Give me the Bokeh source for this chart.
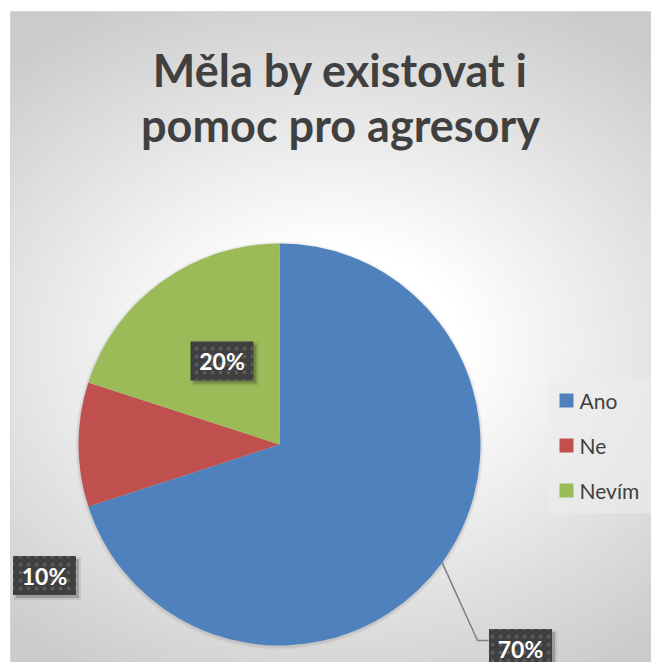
import numpy as np
from bokeh.plotting import figure
from bokeh.models import ColumnDataSource, Range1d, Label
from bokeh.core.properties import value
from bokeh.embed import file_html
from bokeh.resources import INLINE

# ---------------- data ----------------
TITLE_LINES = ["Měla by existovat i", "pomoc pro agresory"]
CATEGORIES = ["Ano", "Ne", "Nevím"]
SHARES = [0.70, 0.10, 0.20]
COLORS = ["#4F81BD", "#C0504D", "#9BBB59"]

# ---------------- layout (picture pixel coordinates) ----------------
W, H = 651, 662


def Y(py):
    return H - py


FONT = "Lato"
TEXT_COLOR = "#404040"
CX, CY, R = 279, Y(444), 201
LABEL_CENTERS = [(520, 648), (44, 575), (221.5, 360.5)]  # Ano, Ne, Nevím
BOX_W, BOX_H = 63, 39
LEADER_ELBOW = [(477, 640), (488, 640)]
LEG_SQ_X, LEG_TXT_X, LEG_Y0, LEG_DY = 566, 579, 400, 45
TITLE_X, TITLE_BASE, TITLE_STEP = 340, 69, 55

p = figure(width=W, height=H, x_range=Range1d(0, W), y_range=Range1d(0, H),
           output_backend="svg", toolbar_location=None, min_border=0,
           x_axis_location=None, y_axis_location=None)
p.grid.visible = False
p.outline_line_color = None
p.background_fill_color = "white"
p.border_fill_color = "white"

# ---------------- background radial gradient ----------------
fx0, fy0 = 10, 11
gw, gh = W - fx0, H - fy0
xs = fx0 + np.arange(gw) + 0.5
ys_page = H - (np.arange(gh) + 0.5)
GX, GY = np.meshgrid(xs, ys_page)
d = np.sqrt((GX - 335) ** 2 + (1.3 * (GY - 345)) ** 2)
t = np.clip((d - 130) / 370, 0, 1)
g = (255 - t * 52).astype(np.uint8)
img = np.empty((gh, gw), dtype=np.uint32)
view = img.view(dtype=np.uint8).reshape((gh, gw, 4))
view[..., 0] = g
view[..., 1] = g
view[..., 2] = g
view[..., 3] = 255
p.image_rgba(image=[img], x=fx0, y=0, dw=gw, dh=gh)
p.quad(left=fx0, right=W + 60, bottom=-50, top=Y(fy0), fill_color=None,
       line_color="#d6d6d6", line_width=1)

# ---------------- pie ----------------
bounds = np.pi / 2 - 2 * np.pi * np.concatenate([[0], np.cumsum(SHARES)])
start, end = bounds[:-1], bounds[1:]
mid = (start + end) / 2
src = ColumnDataSource(dict(cat=CATEGORIES, share=SHARES, color=COLORS,
                            start=start, end=end))

# soft shadow
p.circle(x=CX, y=CY - 1, radius=R + 3, fill_color="black", fill_alpha=0.04, line_color=None)
p.circle(x=CX, y=CY - 1, radius=R + 1.5, fill_color="black", fill_alpha=0.06, line_color=None)
p.wedge(x=CX, y=CY, radius=R, start_angle="start", end_angle="end",
        direction="clock", fill_color="color", line_color=None, source=src)

# leader line for first slice
lx = [CX + R * np.cos(mid[0])] + [e[0] for e in LEADER_ELBOW]
ly = [CY + R * np.sin(mid[0])] + [Y(e[1]) for e in LEADER_ELBOW]
p.line(lx, ly, line_color="#7f7f7f", line_width=1.5)

# ---------------- data labels ----------------
lab = ColumnDataSource(dict(
    x=[c[0] for c in LABEL_CENTERS],
    y=[Y(c[1]) for c in LABEL_CENTERS],
    sx=[c[0] + 3 for c in LABEL_CENTERS],
    sy=[Y(c[1]) - 3 for c in LABEL_CENTERS],
    text=[f"{round(v * 100)}%" for v in SHARES],
))
p.rect(x="sx", y="sy", width=BOX_W + 4, height=BOX_H + 4, fill_color="black",
       fill_alpha=0.08, line_color=None, source=lab)
p.rect(x="sx", y="sy", width=BOX_W, height=BOX_H, fill_color="black",
       fill_alpha=0.2, line_color=None, source=lab)
p.rect(x="x", y="y", width=BOX_W, height=BOX_H, fill_color="#3f3f3f",
       hatch_pattern="dot", hatch_color="#5a5a5a", hatch_scale=8, hatch_weight=1.5,
       line_color=None, source=lab)
p.text(x="x", y="y", text="text", text_font=value(FONT), text_font_style="bold",
       text_font_size="23px", text_color="white", text_align="center",
       text_baseline="middle", source=lab)

# ---------------- legend ----------------
p.quad(left=547, right=653, top=Y(377), bottom=Y(513), fill_color="#ececec",
       fill_alpha=0.6, line_color=None)
leg = ColumnDataSource(dict(
    sq_x=[LEG_SQ_X] * len(CATEGORIES),
    tx=[LEG_TXT_X] * len(CATEGORIES),
    y=[Y(LEG_Y0 + i * LEG_DY) for i in range(len(CATEGORIES))],
    cat=CATEGORIES, color=COLORS,
))
p.rect(x="sq_x", y="y", width=14, height=14, fill_color="color", line_color=None, source=leg)
p.text(x="tx", y="y", text="cat", text_font=value(FONT), text_font_size="21px",
       text_color=TEXT_COLOR, text_align="left", text_baseline="middle", source=leg)

# ---------------- title ----------------
for i, line in enumerate(TITLE_LINES):
    p.add_layout(Label(x=TITLE_X, y=Y(TITLE_BASE + TITLE_STEP * i), text=line,
                       text_font=FONT, text_font_style="bold",
                       text_font_size="45px", text_color=TEXT_COLOR,
                       text_align="center", text_baseline="alphabetic"))

with open("out.html", "w", encoding="utf-8") as f:
    f.write(file_html(p, INLINE, title="Měla by existovat i pomoc pro agresory"))
